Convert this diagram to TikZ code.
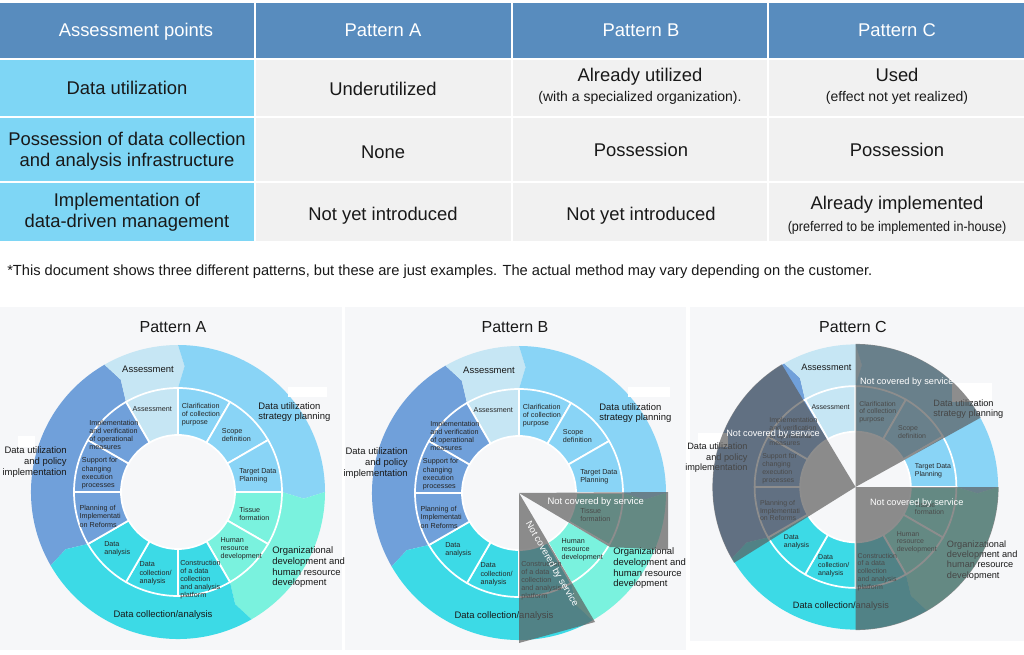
\documentclass[tikz,border=0pt]{standalone}
\usepackage{fontspec}
\setmainfont{Liberation Sans}
\usepackage{graphicx}
\definecolor{cAs}{HTML}{C6E6F4}
\definecolor{cSt}{HTML}{89D4F6}
\definecolor{cOr}{HTML}{7AF2DE}
\definecolor{cCo}{HTML}{3CDAE6}
\definecolor{cPo}{HTML}{70A0DA}
\definecolor{panelbg}{HTML}{F6F7F9}
\definecolor{hdr}{HTML}{588CBE}
\definecolor{firstcell}{HTML}{7ED6F5}
\definecolor{cell}{HTML}{F1F1F1}
\definecolor{ovlc}{HTML}{5B5B5B}
\newcommand\fTab{\fontsize{13.8}{16}\selectfont}
\newcommand\fSub{\fontsize{10.5}{12}\selectfont}
\newcommand\fOut{\fontsize{7.1}{8}\selectfont}
\newcommand\fIn{\fontsize{5.4}{6.1}\selectfont}
\newcommand\fTitle{\fontsize{12}{14}\selectfont}
\newcommand\fNote{\fontsize{11}{13}\selectfont}
\tikzset{
  tabtxt/.style={font=\fTab, anchor=base, inner sep=0, text=black!90},
  hdrtxt/.style={tabtxt, text=white},
  subtxt/.style={font=\fSub, anchor=base, inner sep=0, text=black!90},
  olab/.style={font=\fOut, inner sep=0, text=black!90},
  ilab/.style={font=\fIn, inner sep=0, anchor=west, align=left, text=black!85},
  covtxt/.style={font=\fOut, inner sep=0, text=white},
  titl/.style={font=\fTitle, inner sep=0, text=black!90},
  ovl/.style={fill=ovlc, fill opacity=0.69},
  patch/.style={fill=white}
}
\newcommand\ringshapes{%
  \foreach \a/\b/\c in {-150/-240/cPo,120/90/cAs,90/0/cSt,0/-60/cOr,-60/-150/cCo}{
    \fill[\c] (\a:147) arc[start angle=\a,end angle=\b,radius=147] -- ({\b-3}:126) -- (\b:104)
      arc[start angle=\b,end angle=\a,radius=104] -- ({\a-3}:126) -- cycle;
  }
  \foreach \s/\e/\c in {90/120/cAs,60/90/cSt,30/60/cSt,0/30/cSt,-30/0/cOr,-60/-30/cOr,-90/-60/cCo,-120/-90/cCo,-150/-120/cCo,180/210/cPo,150/180/cPo,120/150/cPo}{
    \filldraw[fill=\c,draw=white,line width=1.3pt] (\s:104) arc[start angle=\s,end angle=\e,radius=104]
      -- (\e:57) arc[start angle=\e,end angle=\s,radius=57] -- cycle;
  }
}
\newcommand\ringlabels[1]{%
  \node[olab] (#1o1) at (-30,123) {Assessment};
  \node[olab,anchor=west,align=left] (#1o2) at (80,80) {Data utilization\\strategy planning};
  \node[olab,anchor=east,align=right] (#1o3) at (-111,30) {Data utilization\\and policy\\implementation};
  \node[olab,anchor=west,align=left] (#1o4) at (94,-75.5) {Organizational\\development and\\human resource\\development};
  \node[olab] (#1o5) at (-15,-123) {Data collection/analysis};
  \node[ilab,anchor=center] (#1i1) at (-25.7,82.7) {Assessment};
  \node[ilab] (#1i2) at (3.7,77.2) {Clarification\\of collection\\purpose};
  \node[ilab] (#1i3) at (43.7,57) {Scope\\definition};
  \node[ilab] (#1i4) at (61,16.5) {Target Data\\Planning};
  \node[ilab] (#1i5) at (61,-22.2) {Tissue\\formation};
  \node[ilab] (#1i6) at (42.3,-57) {Human\\resource\\development};
  \node[ilab] (#1i7) at (2,-87.7) {Construction\\of a data\\collection\\and analysis\\platform};
  \node[ilab] (#1i8) at (-38.7,-81.3) {Data\\collection/\\analysis};
  \node[ilab] (#1i9) at (-74,-56.9) {Data\\analysis};
  \node[ilab] (#1i10) at (-98.7,-24.3) {Planning of\\Implementati\\on Reforms};
  \node[ilab] (#1i11) at (-96.3,18.7) {Support for\\changing\\execution\\processes};
  \node[ilab] (#1i12) at (-89,57.15) {Implementation\\and verification\\of operational\\measures};
}
\begin{document}
\begin{tikzpicture}[x=0.75pt,y=0.75pt]
\useasboundingbox (0,0) rectangle (1024,654);
\fill[white] (0,0) rectangle (1024,654);
% ---------- table ----------
\fill[hdr] (0,596) rectangle (254,651);
\fill[hdr] (256,596) rectangle (511,651);
\fill[hdr] (513,596) rectangle (767,651);
\fill[hdr] (769,596) rectangle (1024,651);
\foreach \yb/\yt in {538/594,473/536,413/471}{
  \fill[firstcell] (0,\yb) rectangle (254,\yt);
  \fill[cell] (256,\yb) rectangle (511,\yt);
  \fill[cell] (513,\yb) rectangle (767,\yt);
  \fill[cell] (769,\yb) rectangle (1024,\yt);
}
\node[hdrtxt] (h1) at (136,617) {Assessment points};
\node[hdrtxt] (h2) at (383,617) {Pattern A};
\node[hdrtxt] (h3) at (641,617) {Pattern B};
\node[hdrtxt] (h4) at (897,617) {Pattern C};
\node[tabtxt] (r1c1) at (127,559) {Data utilization};
\node[tabtxt] (r1c2) at (383,558) {Underutilized};
\node[tabtxt] (r1c3) at (640,572) {Already utilized};
\node[subtxt] (r1c3b) at (640,552.4) {(with a specialized organization).};
\node[tabtxt] (r1c4) at (897,572) {Used};
\node[subtxt] (r1c4b) at (897,552.4) {(effect not yet realized)};
\node[tabtxt] (r2c1) at (127,508.7) {Possession of data collection};
\node[tabtxt] (r2c1b) at (127,487.3) {and analysis infrastructure};
\node[tabtxt] (r2c2) at (383,495.3) {None};
\node[tabtxt] (r2c3) at (641,497) {Possession};
\node[tabtxt] (r2c4) at (897,497) {Possession};
\node[tabtxt] (r3c1) at (127,447.3) {Implementation of};
\node[tabtxt] (r3c1b) at (127,426.3) {data-driven management};
\node[tabtxt] (r3c2) at (383,433) {Not yet introduced};
\node[tabtxt] (r3c3) at (641,433) {Not yet introduced};
\node[tabtxt] (r3c4) at (897,444) {Already implemented};
\node[subtxt] (r3c4b) at (897,422.7) {\scalebox{0.9}[1]{(preferred to be implemented in-house)}};
% ---------- note ----------
\node[anchor=base west,inner sep=0,text=black!90] (note) at (7,378)
  {\resizebox{648.75pt}{!}{\fNote *This document shows three different patterns, but these are just examples. The actual method may vary depending on the customer.}};
% ---------- panels ----------
\fill[panelbg] (0,4) rectangle (342,347);
\fill[panelbg] (345,4) rectangle (686,347);
\fill[panelbg] (690,13) rectangle (1024,347);
\node[titl] (tA) at (173,327) {Pattern A};
\node[titl] (tB) at (515,327) {Pattern B};
\node[titl] (tC) at (853,327) {Pattern C};
% ---------- Pattern A ----------
\begin{scope}[shift={(178,162)}] \ringshapes \end{scope}
\fill[patch] (288,257) rectangle (327,267);
\fill[patch] (18,207) rectangle (35,218);
\begin{scope}[shift={(178,162)}] \ringlabels{A} \end{scope}
% ---------- Pattern B ----------
\begin{scope}[shift={(519,161)}] \ringshapes \end{scope}
\fill[patch] (628,257) rectangle (670,267);
\begin{scope}[shift={(519,161)}]
  \ringlabels{B}
  \fill[ovl] (0,0) -- (149,1) -- (149,-57) -- (91,-54) -- cycle;
  \fill[ovl] (0,0) -- (0,-150) -- (76,-129) -- cycle;
  \node[covtxt] (Bc1) at (76.7,-8.7) {Not covered by service};
  \node[covtxt,rotate=-60] (Bc2) at (32.7,-71.3) {Not covered by service};
\end{scope}
% ---------- Pattern C ----------
\begin{scope}[shift={(855.5,167)},scale=0.97] \ringshapes \end{scope}
\fill[patch] (952,252) rectangle (992,271);
\fill[patch] (698,207) rectangle (728,221);
\begin{scope}[shift={(855.5,167)},scale=0.97,every node/.append style={transform shape}]
  \ringlabels{C}
  \fill[ovl] (0,0) -- (90:147.5) arc[start angle=90,end angle=29,radius=147.5] -- cycle;
  \fill[ovl] (0,0) -- (121:147.5) arc[start angle=121,end angle=212,radius=147.5] -- cycle;
  \fill[ovl] (0,0) -- (0:147.5) arc[start angle=0,end angle=-90,radius=147.5] -- cycle;
  \node[covtxt] (Cc1) at (52.8,107.9) {Not covered by service};
  \node[covtxt] (Cc2) at (-85,54.3) {Not covered by service};
  \node[covtxt] (Cc3) at (63.1,-16.2) {Not covered by service};
\end{scope}
\end{tikzpicture}
\end{document}
